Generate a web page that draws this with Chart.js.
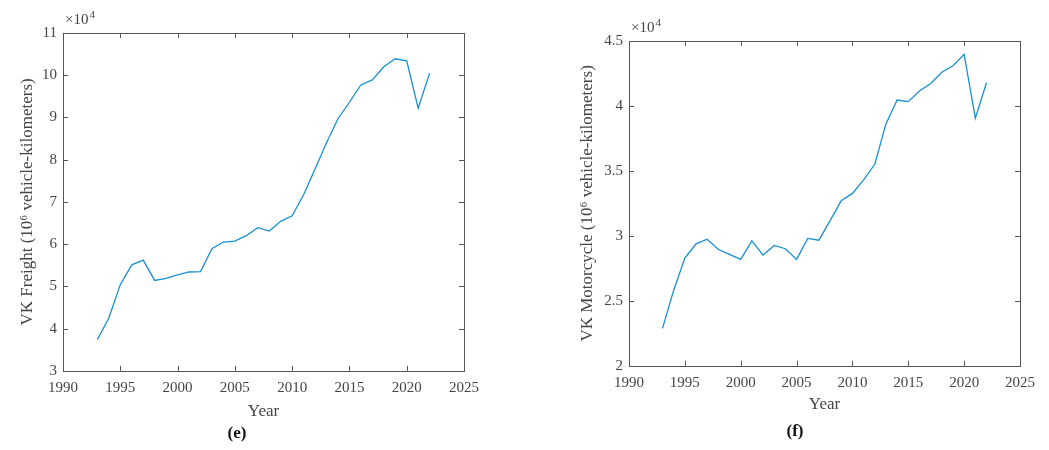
<!DOCTYPE html>
<html lang="en">
<head>
<meta charset="UTF-8">
<title>VK Freight and VK Motorcycle</title>
<script src="https://cdn.jsdelivr.net/npm/chart.js"></script>
<style>
  body { margin: 0; background: #fff; }
  .panel { position: absolute; top: 0; }
</style>
</head>
<body>
<canvas id="freightChart" class="panel" style="left:0" width="524" height="450"></canvas>
<canvas id="motoChart" class="panel" style="left:524px" width="525" height="450"></canvas>

<script>
// years 1993..2022
var years = [1993, 1994, 1995, 1996, 1997, 1998, 1999, 2000, 2001, 2002,
             2003, 2004, 2005, 2006, 2007, 2008, 2009, 2010, 2011, 2012,
             2013, 2014, 2015, 2016, 2017, 2018, 2019, 2020, 2021, 2022];

// VK Freight, 10^6 vehicle-km
var freight = [37400, 42500, 50400, 55100, 56200, 51400, 51900, 52700, 53400, 53500,
               58900, 60500, 60700, 62000, 63900, 63100, 65400, 66700, 71700, 77800,
               84000, 89700, 93600, 97700, 98900, 102000, 103900, 103400, 92200, 100500];

// VK Motorcycle, 10^6 vehicle-km
var motorcycle = [22880, 25820, 28290, 29390, 29740, 28950, 28570, 28190, 29620, 28520,
                  29260, 29010, 28190, 29800, 29670, 31170, 32700, 33270, 34310, 35510,
                  38620, 40460, 40330, 41150, 41730, 42600, 43090, 43980, 39060, 41790];

var xTicks = [1990, 1995, 2000, 2005, 2010, 2015, 2020, 2025];
var freightTicks = [3, 4, 5, 6, 7, 8, 9, 10, 11];          // x10^4
var motoTicks = [2, 2.5, 3, 3.5, 4, 4.5];                  // x10^4

var textColor = '#454545';
var serif = "'Liberation Serif', 'DejaVu Serif', serif";

// box round the plot, inward ticks on all four sides, and the x10^4 note
var framePlugin = {
    id: 'frame',
    afterDraw: function(chart) {
        var ctx = chart.ctx, a = chart.chartArea;
        var sx = chart.scales.x, sy = chart.scales.y;
        var len = 5;
        ctx.save();
        ctx.strokeStyle = '#555';
        ctx.lineWidth = 1;
        ctx.strokeRect(Math.round(a.left) + 0.5, Math.round(a.top) + 0.5,
                       Math.round(a.right - a.left), Math.round(a.bottom - a.top));
        ctx.beginPath();
        sx.ticks.forEach(function(t) {
            var px = Math.round(sx.getPixelForValue(t.value)) + 0.5;
            ctx.moveTo(px, a.bottom); ctx.lineTo(px, a.bottom - len);
            ctx.moveTo(px, a.top); ctx.lineTo(px, a.top + len);
        });
        sy.ticks.forEach(function(t) {
            var py = Math.round(sy.getPixelForValue(t.value)) + 0.5;
            ctx.moveTo(a.left, py); ctx.lineTo(a.left + len, py);
            ctx.moveTo(a.right, py); ctx.lineTo(a.right - len, py);
        });
        ctx.stroke();

        // exponent note
        ctx.fillStyle = textColor;
        ctx.textBaseline = 'alphabetic';
        ctx.textAlign = 'left';
        ctx.font = '15px ' + serif;
        var bx = a.left + 2, by = a.top - 9;
        ctx.fillText('\u00d710', bx, by);
        var w = ctx.measureText('\u00d710').width;
        ctx.font = '11px ' + serif;
        ctx.fillText('4', bx + w + 1, by - 6);
        ctx.restore();
    }
};

function makeChart(id, values, yTicks, yTitle, letter, g) {
    var ctx = document.getElementById(id).getContext('2d');
    var points = years.map(function(yr, i) { return { x: yr, y: values[i] }; });
    return new Chart(ctx, {
        type: 'line',
        data: {
            datasets: [{
                data: points,
                borderColor: '#1690d3',
                borderWidth: 1.3,
                pointRadius: 0,
                tension: 0,
                fill: false
            }]
        },
        options: {
            responsive: false,
            animation: false,
            layout: { padding: { left: g.padLeft, top: g.top, right: g.padRight, bottom: 0 } },
            plugins: {
                legend: { display: false },
                tooltip: { enabled: false },
                title: {
                    display: true,
                    position: 'bottom',
                    text: letter,
                    color: '#111',
                    font: { family: serif, size: 17, weight: 'bold' },
                    padding: { top: 0, bottom: g.letterPad }
                }
            },
            scales: {
                x: {
                    type: 'linear',
                    min: xTicks[0],
                    max: xTicks[xTicks.length - 1],
                    afterBuildTicks: function(s) { s.ticks = xTicks.map(function(v) { return { value: v }; }); },
                    afterFit: function(s) { s.height = g.xHeight; },
                    grid: { display: false, drawTicks: false },
                    border: { display: false },
                    ticks: {
                        color: textColor,
                        font: { family: serif, size: 15 },
                        padding: 8,
                        maxRotation: 0,
                        callback: function(v) { return String(v); }
                    },
                    title: {
                        display: true,
                        text: 'Year',
                        color: textColor,
                        font: { family: serif, size: 17 },
                        padding: { top: 0, bottom: g.yearPad }
                    }
                },
                y: {
                    min: yTicks[0] * 1e4,
                    max: yTicks[yTicks.length - 1] * 1e4,
                    afterBuildTicks: function(s) { s.ticks = yTicks.map(function(v) { return { value: v * 1e4 }; }); },
                    afterFit: function(s) { s.width = g.yWidth; },
                    grid: { display: false, drawTicks: false },
                    border: { display: false },
                    ticks: {
                        color: textColor,
                        font: { family: serif, size: 15 },
                        padding: 6,
                        callback: function(v) { return String(v / 1e4); }
                    },
                    title: {
                        display: true,
                        text: yTitle,
                        color: textColor,
                        font: { family: serif, size: 17 },
                        padding: { top: 7, bottom: 0 }
                    }
                }
            }
        },
        plugins: [framePlugin]
    });
}

// plot area: freight x 63..464, y 33..372 ; motorcycle x 105..496 (in its canvas), y 41..367
makeChart('freightChart', freight, freightTicks, 'VK Freight (10\u2076 vehicle-kilometers)', '(e)',
          { padLeft: 10, yWidth: 53, padRight: 60, top: 33, xHeight: 52.8, yearPad: 2, letterPad: 6 });
makeChart('motoChart', motorcycle, motoTicks, 'VK Motorcycle (10\u2076 vehicle-kilometers)', '(f)',
          { padLeft: 46, yWidth: 59, padRight: 29, top: 41, xHeight: 55.8, yearPad: 7, letterPad: 8 });
</script>
</body>
</html>
